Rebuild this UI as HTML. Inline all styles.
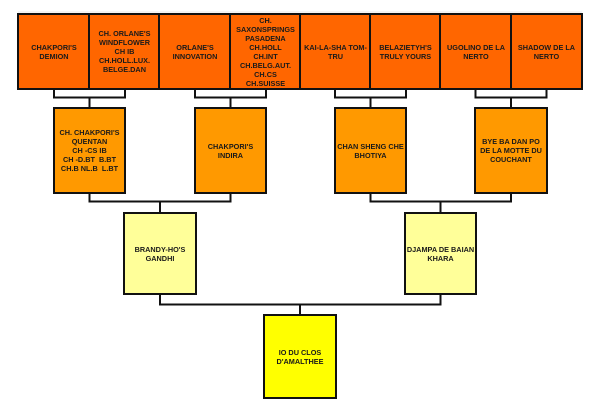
<!DOCTYPE html>
<html><head><meta charset="utf-8">
<style>
html,body{margin:0;padding:0;background:#fff;}
body{width:600px;height:415px;position:relative;overflow:hidden;font-family:"Liberation Sans",Arial,sans-serif;}
.b{position:absolute;box-sizing:border-box;border:2px solid #111;display:flex;align-items:center;justify-content:center;text-align:center;font-weight:bold;font-size:7.3px;line-height:9px;color:#1a1a1a;white-space:nowrap;}
.o1{background:#ff6600;}
.o2{background:#ff9900;}
.y1{background:#ffff99;}
.y2{background:#ffff00;}
svg{position:absolute;left:0;top:0;}
</style></head><body>
<svg width="600" height="415" viewBox="0 0 600 415">
<line x1="18" y1="12" x2="582" y2="12" stroke="#e8e8e8" stroke-width="1"/>
<g stroke="#111" stroke-width="2" fill="none">
<polyline points="54,89 54,97.5 125,97.5 125,89"/>
<line x1="89.5" y1="97.5" x2="89.5" y2="108"/>
<polyline points="195,89 195,97.5 266,97.5 266,89"/>
<line x1="230.5" y1="97.5" x2="230.5" y2="108"/>
<polyline points="335,89 335,97.5 406,97.5 406,89"/>
<line x1="370.5" y1="97.5" x2="370.5" y2="108"/>
<polyline points="475.5,89 475.5,97.5 546.5,97.5 546.5,89"/>
<line x1="511" y1="97.5" x2="511" y2="108"/>
<polyline points="89.5,193 89.5,201.5 230.5,201.5 230.5,193"/>
<line x1="160" y1="201.5" x2="160" y2="213"/>
<polyline points="370.5,193 370.5,201.5 511,201.5 511,193"/>
<line x1="440.5" y1="201.5" x2="440.5" y2="213"/>
<polyline points="160,294 160,304.5 440.5,304.5 440.5,294"/>
<line x1="300" y1="304.5" x2="300" y2="315"/>
</g>
</svg>

<div class="b o1" style="left:17px;top:13px;width:74px;height:77px;">CHAKPORI'S<br>DEMION</div>
<div class="b o1" style="left:88px;top:13px;width:73px;height:77px;">CH. ORLANE'S<br>WINDFLOWER<br>CH IB<br>CH.HOLL.LUX.<br>BELGE.DAN</div>
<div class="b o1" style="left:158px;top:13px;width:74px;height:77px;">ORLANE'S<br>INNOVATION</div>
<div class="b o1" style="left:229px;top:13px;width:73px;height:77px;">CH.<br>SAXONSPRINGS<br>PASADENA<br>CH.HOLL<br>CH.INT<br>CH.BELG.AUT.<br>CH.CS<br>CH.SUISSE</div>
<div class="b o1" style="left:299px;top:13px;width:73px;height:77px;">KAI-LA-SHA TOM-<br>TRU</div>
<div class="b o1" style="left:369px;top:13px;width:73px;height:77px;">BELAZIETYH'S<br>TRULY YOURS</div>
<div class="b o1" style="left:439px;top:13px;width:74px;height:77px;">UGOLINO DE LA<br>NERTO</div>
<div class="b o1" style="left:510px;top:13px;width:73px;height:77px;">SHADOW DE LA<br>NERTO</div>

<div class="b o2" style="left:53px;top:107px;width:73px;height:87px;">CH. CHAKPORI'S<br>QUENTAN<br>CH -CS IB<br>CH -D.BT&nbsp; B.BT<br>CH.B NL.B&nbsp; L.BT</div>
<div class="b o2" style="left:194px;top:107px;width:73px;height:87px;">CHAKPORI'S<br>INDIRA</div>
<div class="b o2" style="left:334px;top:107px;width:73px;height:87px;">CHAN SHENG CHE<br>BHOTIYA</div>
<div class="b o2" style="left:474px;top:107px;width:74px;height:87px;">BYE BA DAN PO<br>DE LA MOTTE DU<br>COUCHANT</div>

<div class="b y1" style="left:123px;top:212px;width:74px;height:83px;">BRANDY-HO'S<br>GANDHI</div>
<div class="b y1" style="left:404px;top:212px;width:73px;height:83px;">DJAMPA DE BAIAN<br>KHARA</div>

<div class="b y2" style="left:263px;top:314px;width:74px;height:85px;">IO DU CLOS<br>D'AMALTHEE</div>
</body></html>
